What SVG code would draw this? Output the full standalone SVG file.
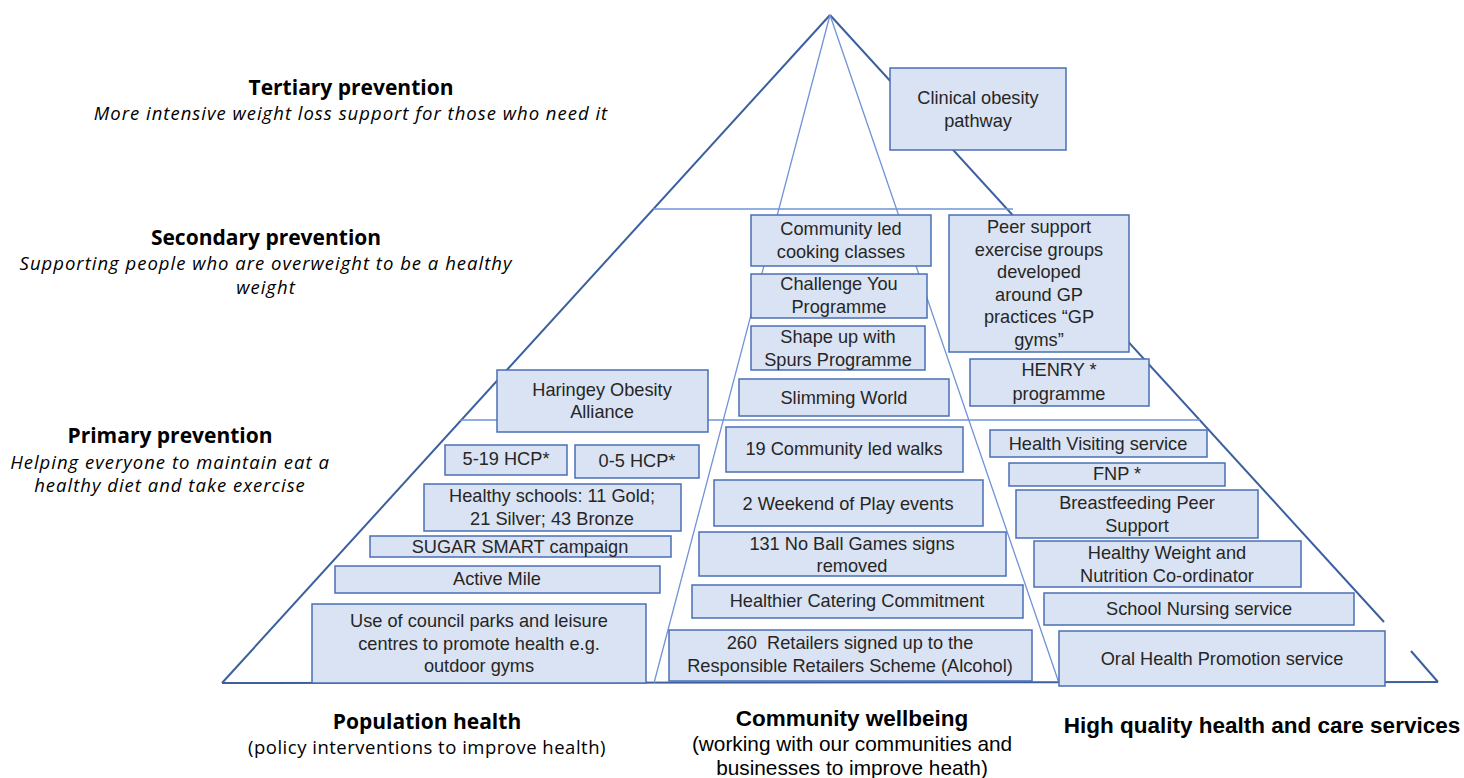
<svg xmlns="http://www.w3.org/2000/svg" width="1464" height="778" viewBox="0 0 1464 778">
<style>
.edge{stroke:#3c5f9e;stroke-width:2;fill:none}
.inner{stroke:#6f93d6;stroke-width:1.3;fill:none}
.box{fill:#dae3f3;stroke:#4a6fb5;stroke-width:1.5}
.t{font-family:"Liberation Sans",Arial,sans-serif;font-size:18.2px;fill:#262626;text-anchor:middle}
.h{font-family:"Open Sans","Liberation Sans",sans-serif;font-size:21px;font-weight:bold;fill:#000;text-anchor:middle}
.i{font-family:"Open Sans","Liberation Sans",sans-serif;font-size:18.5px;font-style:italic;fill:#000;text-anchor:middle;letter-spacing:1px}
.s{font-family:"Open Sans","Liberation Sans",sans-serif;font-size:18.5px;fill:#000;text-anchor:middle;letter-spacing:0.5px}
.hc{font-family:"Liberation Sans",Arial,sans-serif;font-size:22.5px;font-weight:bold;fill:#000;text-anchor:middle}
.sc{font-family:"Liberation Sans",Arial,sans-serif;font-size:20.8px;fill:#000;text-anchor:middle}
</style>
<rect width="1464" height="778" fill="#fff"/>
<g id="connectors">
<line class="edge" x1="222" y1="683" x2="830" y2="15"/>
<line class="edge" x1="830" y1="15" x2="1384" y2="622"/>
<line class="edge" x1="1411" y1="651" x2="1438" y2="682"/>
<line class="edge" x1="222" y1="683" x2="1438" y2="682"/>
<line class="inner" x1="830" y1="15" x2="654" y2="683"/>
<line class="inner" x1="830" y1="15" x2="1059" y2="683"/>
<line class="inner" x1="653" y1="209" x2="1013" y2="209"/>
<line class="inner" x1="460" y1="420" x2="1200" y2="420"/>
</g>
<g id="labels">
<text class="h" x="351" y="95">Tertiary prevention</text>
<text class="i" x="351" y="120">More intensive weight loss support for those who need it</text>
<text class="h" x="266" y="245">Secondary prevention</text>
<text class="i" x="266" y="270">Supporting people who are overweight to be a healthy</text>
<text class="i" x="266" y="294">weight</text>
<text class="h" x="170" y="443">Primary prevention</text>
<text class="i" x="170" y="469">Helping everyone to maintain eat a</text>
<text class="i" x="170" y="492">healthy diet and take exercise</text>
<text class="h" x="427" y="729">Population health</text>
<text class="s" x="427" y="754">(policy interventions to improve health)</text>
<text class="hc" x="852" y="726">Community wellbeing</text>
<text class="sc" x="852" y="751">(working with our communities and</text>
<text class="sc" x="852" y="775">businesses to improve heath)</text>
<text class="hc" x="1262" y="733">High quality health and care services</text>
</g>
<g id="clinical"><rect class="box" x="890" y="68" width="176" height="82"/><text class="t" x="978" y="104">Clinical obesity</text><text class="t" x="978" y="127">pathway</text></g>
<g id="cooking"><rect class="box" x="751" y="215" width="180" height="51"/><text class="t" x="841" y="235">Community led</text><text class="t" x="841" y="258">cooking classes</text></g>
<g id="challenge"><rect class="box" x="751" y="274" width="176" height="44"/><text class="t" x="839" y="290">Challenge You</text><text class="t" x="839" y="313">Programme</text></g>
<g id="spurs"><rect class="box" x="751" y="326" width="174" height="44"/><text class="t" x="838" y="343">Shape up with</text><text class="t" x="838" y="366">Spurs Programme</text></g>
<g id="slimming"><rect class="box" x="739" y="379" width="210" height="37"/><text class="t" x="844" y="404">Slimming World</text></g>
<g id="peer"><rect class="box" x="949" y="215" width="180" height="137"/><text class="t" x="1039" y="233">Peer support</text><text class="t" x="1039" y="256">exercise groups</text><text class="t" x="1039" y="278">developed</text><text class="t" x="1039" y="301">around GP</text><text class="t" x="1039" y="323">practices “GP</text><text class="t" x="1039" y="346">gyms”</text></g>
<g id="henry"><rect class="box" x="970" y="359" width="179" height="47"/><text class="t" x="1059" y="376">HENRY *</text><text class="t" x="1059" y="400">programme</text></g>
<g id="haringey"><rect class="box" x="497" y="370" width="211" height="62"/><text class="t" x="602" y="396">Haringey Obesity</text><text class="t" x="602" y="418">Alliance</text></g>
<g id="hv"><rect class="box" x="990" y="430" width="217" height="27"/><text class="t" x="1098" y="450">Health Visiting service</text></g>
<g id="fnp"><rect class="box" x="1009" y="463" width="216" height="23"/><text class="t" x="1117" y="480">FNP *</text></g>
<g id="breast"><rect class="box" x="1016" y="490" width="242" height="48"/><text class="t" x="1137" y="509">Breastfeeding Peer</text><text class="t" x="1137" y="532">Support</text></g>
<g id="hwn"><rect class="box" x="1034" y="541" width="267" height="46"/><text class="t" x="1167" y="559">Healthy Weight and</text><text class="t" x="1167" y="582">Nutrition Co-ordinator</text></g>
<g id="school"><rect class="box" x="1044" y="593" width="310" height="32"/><text class="t" x="1199" y="615">School Nursing service</text></g>
<g id="oral"><rect class="box" x="1059" y="631" width="326" height="55"/><text class="t" x="1222" y="665">Oral Health Promotion service</text></g>
<g id="hcp519"><rect class="box" x="445" y="445" width="122" height="30"/><text class="t" x="506" y="465">5-19 HCP*</text></g>
<g id="hcp05"><rect class="box" x="575" y="445" width="124" height="33"/><text class="t" x="637" y="467">0-5 HCP*</text></g>
<g id="schools"><rect class="box" x="424" y="484" width="257" height="47"/><text class="t" x="552" y="502">Healthy schools: 11 Gold;</text><text class="t" x="552" y="525">21 Silver; 43 Bronze</text></g>
<g id="sugar"><rect class="box" x="370" y="536" width="301" height="21"/><text class="t" x="520" y="553">SUGAR SMART campaign</text></g>
<g id="activemile"><rect class="box" x="335" y="566" width="325" height="27"/><text class="t" x="497" y="585">Active Mile</text></g>
<g id="parks"><rect class="box" x="312" y="604" width="334" height="79"/><text class="t" x="479" y="627">Use of council parks and leisure</text><text class="t" x="479" y="650">centres to promote health e.g.</text><text class="t" x="479" y="672">outdoor gyms</text></g>
<g id="walks"><rect class="box" x="726" y="427" width="237" height="45"/><text class="t" x="844" y="455">19 Community led walks</text></g>
<g id="play"><rect class="box" x="714" y="480" width="269" height="46"/><text class="t" x="848" y="510">2 Weekend of Play events</text></g>
<g id="noball"><rect class="box" x="699" y="532" width="307" height="44"/><text class="t" x="852" y="550">131 No Ball Games signs</text><text class="t" x="852" y="572">removed</text></g>
<g id="catering"><rect class="box" x="692" y="585" width="331" height="33"/><text class="t" x="857" y="607">Healthier Catering Commitment</text></g>
<g id="retailers"><rect class="box" x="669" y="630" width="363" height="51"/><text class="t" x="850" y="649" xml:space="preserve">260  Retailers signed up to the</text><text class="t" x="850" y="672">Responsible Retailers Scheme (Alcohol)</text></g>
</svg>
